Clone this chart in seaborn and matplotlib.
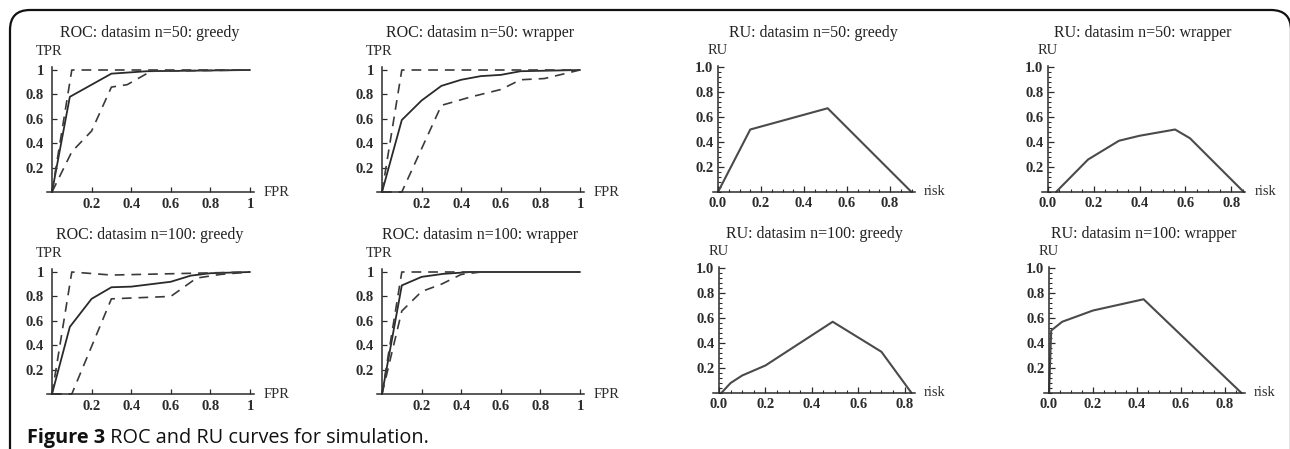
import matplotlib
matplotlib.use("Agg")
import matplotlib.pyplot as plt
import seaborn as sns
from matplotlib.patches import FancyBboxPatch
from matplotlib.ticker import FixedLocator, MultipleLocator

W, H = 1290, 449

# ROC curves (FPR, TPR)
g50_solid_x = [0, 0.09, 0.3, 0.48, 1]
g50_solid_y = [0, 0.78, 0.97, 0.99, 1]
g50_upper_x = [0, 0.1, 1]
g50_upper_y = [0, 1, 1]
g50_lower_x = [0, 0.1, 0.2, 0.3, 0.38, 0.5, 1]
g50_lower_y = [0, 0.33, 0.5, 0.86, 0.88, 0.99, 1]

w50_solid_x = [0, 0.1, 0.2, 0.3, 0.4, 0.5, 0.6, 0.7, 1]
w50_solid_y = [0, 0.59, 0.75, 0.87, 0.92, 0.95, 0.96, 0.99, 1]
w50_upper_x = [0, 0.1, 1]
w50_upper_y = [0, 1, 1]
w50_lower_x = [0, 0.1, 0.3, 0.45, 0.6, 0.7, 0.82, 1]
w50_lower_y = [0, 0, 0.71, 0.78, 0.84, 0.92, 0.93, 1]

g100_solid_x = [0, 0.09, 0.2, 0.3, 0.4, 0.6, 0.7, 0.8, 1]
g100_solid_y = [0, 0.55, 0.78, 0.875, 0.88, 0.92, 0.97, 0.99, 1]
g100_upper_x = [0, 0.1, 0.3, 1]
g100_upper_y = [0, 1, 0.975, 1]
g100_lower_x = [0, 0.1, 0.3, 0.6, 0.73, 0.85, 1]
g100_lower_y = [0, 0, 0.78, 0.8, 0.95, 0.98, 1]

w100_solid_x = [0, 0.1, 0.2, 0.31, 0.45, 1]
w100_solid_y = [0, 0.89, 0.96, 0.985, 1, 1]
w100_upper_x = [0, 0.1, 1]
w100_upper_y = [0, 1, 1]
w100_lower_x = [0, 0.1, 0.2, 0.3, 0.4, 0.5, 1]
w100_lower_y = [0, 0.68, 0.84, 0.9, 0.98, 1, 1]

# RU curves (risk, RU)
ru_g50_x = [0, 0.15, 0.51, 0.9]
ru_g50_y = [0, 0.5, 0.67, 0]
ru_w50_x = [0.035, 0.175, 0.31, 0.4, 0.555, 0.62, 0.855]
ru_w50_y = [0, 0.26, 0.41, 0.45, 0.5, 0.43, 0]
ru_g100_x = [0.01, 0.05, 0.1, 0.2, 0.49, 0.7, 0.83]
ru_g100_y = [0, 0.08, 0.14, 0.22, 0.57, 0.33, 0]
ru_w100_x = [0, 0.01, 0.06, 0.2, 0.43, 0.875]
ru_w100_y = [0, 0.5, 0.57, 0.66, 0.75, 0]

roc_ticks = [0.2, 0.4, 0.6, 0.8, 1.0]
roc_ticklabels = ["0.2", "0.4", "0.6", "0.8", "1"]
ru_xticks = [0.0, 0.2, 0.4, 0.6, 0.8]
ru_xticklabels = ["0.0", "0.2", "0.4", "0.6", "0.8"]
ru_yticks = [0.2, 0.4, 0.6, 0.8, 1.0]
ru_yticklabels = ["0.2", "0.4", "0.6", "0.8", "1.0"]

sns.set_theme(style="white")
plt.rcParams["font.family"] = ["Liberation Serif", "DejaVu Serif"]
plt.rcParams["lines.scale_dashes"] = False

INK = "#2b2b2b"
DASH = (0, (7, 5))
TICK_FS = 10.5
LABEL_FS = 10.5

fig = plt.figure(figsize=(W / 100, H / 100), dpi=100)


def make_axes(x0, xs, y0, ys, xlim, ylim):
    # place an axes so that data (0,0) lands on pixel (x0, y0)
    left = x0 + xlim[0] * xs
    right = x0 + xlim[1] * xs
    bottom = y0 - ylim[0] * ys
    top = y0 - ylim[1] * ys
    ax = fig.add_axes([left / W, 1 - bottom / H, (right - left) / W, (bottom - top) / H])
    ax.set_xlim(*xlim)
    ax.set_ylim(*ylim)
    ax.patch.set_alpha(0)
    for s in ["top", "right"]:
        ax.spines[s].set_visible(False)
    ax.spines["left"].set_position(("data", 0))
    ax.spines["bottom"].set_position(("data", 0))
    ax.spines["left"].set_bounds(0, ylim[1])
    for s in ["left", "bottom"]:
        ax.spines[s].set_color(INK)
        ax.spines[s].set_linewidth(1.1)
    ax.tick_params(bottom=True, left=True, top=False, right=False, which="both")
    return ax


def roc_panel(x0, y0, title, curves):
    ax = make_axes(x0, 198, y0, 122, (-0.025, 1.02), (-0.015, 1.025))
    for cx, cy, dashed in curves:
        if dashed:
            sns.lineplot(x=cx, y=cy, ax=ax, color="#3a3a3a", lw=1.2, linestyle=DASH,
                         estimator=None, sort=False)
        else:
            sns.lineplot(x=cx, y=cy, ax=ax, color="#2a2a2a", lw=1.3,
                         estimator=None, sort=False)
    ax.xaxis.set_major_locator(FixedLocator(roc_ticks))
    ax.yaxis.set_major_locator(FixedLocator(roc_ticks))
    ax.set_xticklabels(roc_ticklabels)
    ax.set_yticklabels(roc_ticklabels)
    ax.tick_params(axis="both", direction="in", length=3.5, width=0.9, color=INK,
                   labelsize=TICK_FS, labelcolor=INK)
    ax.tick_params(axis="y", pad=6)
    ax.tick_params(axis="x", pad=4)
    for lab in ax.get_xticklabels() + ax.get_yticklabels():
        lab.set_fontweight("bold")
    ax.set_xlabel("")
    ax.set_ylabel("")
    ax.text(-0.015, 1.15, "TPR", ha="center", va="center", fontsize=LABEL_FS, color=INK,
            transform=ax.transData, clip_on=False)
    ax.annotate("FPR", xy=(1.02, 0), xytext=(16.5, 0), textcoords="offset points",
                ha="center", va="center", fontsize=LABEL_FS, color=INK)
    fig.text((x0 + 98) / W, 1 - (y0 - 159) / H, title, ha="center", va="center",
             fontsize=11.5, color="#222222")
    return ax


def ru_panel(x0, xs, y0, xmax, title, cx, cy):
    ax = make_axes(x0, xs, y0, 125, (-0.025, xmax), (-0.005, 1.005))
    sns.lineplot(x=cx, y=cy, ax=ax, color="#4a4a4a", lw=1.5, estimator=None, sort=False)
    ax.xaxis.set_major_locator(FixedLocator(ru_xticks))
    ax.yaxis.set_major_locator(FixedLocator(ru_yticks))
    ax.set_xticklabels(ru_xticklabels)
    ax.set_yticklabels(ru_yticklabels)
    ax.xaxis.set_minor_locator(MultipleLocator(0.05))
    ax.yaxis.set_minor_locator(MultipleLocator(0.04))
    ax.tick_params(axis="both", which="major", direction="in", length=4, width=0.9,
                   color=INK, labelsize=TICK_FS, labelcolor=INK)
    ax.tick_params(axis="both", which="minor", direction="in", length=2.3, width=0.8,
                   color=INK)
    ax.tick_params(axis="y", which="major", pad=3.4)
    ax.tick_params(axis="x", which="major", pad=3.4)
    for lab in ax.get_xticklabels() + ax.get_yticklabels():
        lab.set_fontweight("bold")
    ax.set_xlabel("")
    ax.set_ylabel("")
    ax.text(0.0, 1.13, "RU", ha="center", va="center", fontsize=LABEL_FS, color=INK,
            transform=ax.transData, clip_on=False)
    ax.annotate("risk", xy=(xmax, 0), xytext=(14.4, 0), textcoords="offset points",
                ha="center", va="center", fontsize=LABEL_FS, color=INK)
    fig.text((x0 + 95) / W, 1 - (y0 - 159) / H, title, ha="center", va="center",
             fontsize=11.5, color="#222222")
    return ax


roc_panel(52, 192, "ROC: datasim n=50: greedy",
          [(g50_solid_x, g50_solid_y, False), (g50_upper_x, g50_upper_y, True),
           (g50_lower_x, g50_lower_y, True)])
roc_panel(382, 192, "ROC: datasim n=50: wrapper",
          [(w50_solid_x, w50_solid_y, False), (w50_upper_x, w50_upper_y, True),
           (w50_lower_x, w50_lower_y, True)])
roc_panel(52, 394, "ROC: datasim n=100: greedy",
          [(g100_solid_x, g100_solid_y, False), (g100_upper_x, g100_upper_y, True),
           (g100_lower_x, g100_lower_y, True)])
roc_panel(382, 394, "ROC: datasim n=100: wrapper",
          [(w100_solid_x, w100_solid_y, False), (w100_upper_x, w100_upper_y, True),
           (w100_lower_x, w100_lower_y, True)])

ru_panel(718, 215, 192, 0.915, "RU: datasim n=50: greedy", ru_g50_x, ru_g50_y)
ru_panel(1048, 229, 192, 0.862, "RU: datasim n=50: wrapper", ru_w50_x, ru_w50_y)
ru_panel(719, 232, 393, 0.845, "RU: datasim n=100: greedy", ru_g100_x, ru_g100_y)
ru_panel(1049, 220, 393, 0.89, "RU: datasim n=100: wrapper", ru_w100_x, ru_w100_y)

# rounded frame around the figure, cut off at the bottom and right edge
frame = FancyBboxPatch((10 / 100, -0.4), (1281 / 100), (H - 10) / 100 + 0.4,
                       boxstyle="round,pad=0,rounding_size=0.2",
                       transform=fig.dpi_scale_trans, fill=False,
                       edgecolor="#111111", lw=1.6, clip_on=False)
fig.patches.append(frame)

# caption: bold label followed by regular text
cap_y = 1 - 443 / H
t1 = fig.text(27 / W, cap_y, "Figure 3", ha="left", va="baseline", fontsize=14.3,
              fontweight="bold", family=["Open Sans", "DejaVu Sans"], color="#111111")
fig.canvas.draw()
bb = t1.get_window_extent(renderer=fig.canvas.get_renderer())
fig.text(bb.x1 / W, cap_y, " ROC and RU curves for simulation.", ha="left",
         va="baseline", fontsize=14.3, family=["Open Sans", "DejaVu Sans"],
         color="#111111")

fig.savefig("out.png", dpi=100)
